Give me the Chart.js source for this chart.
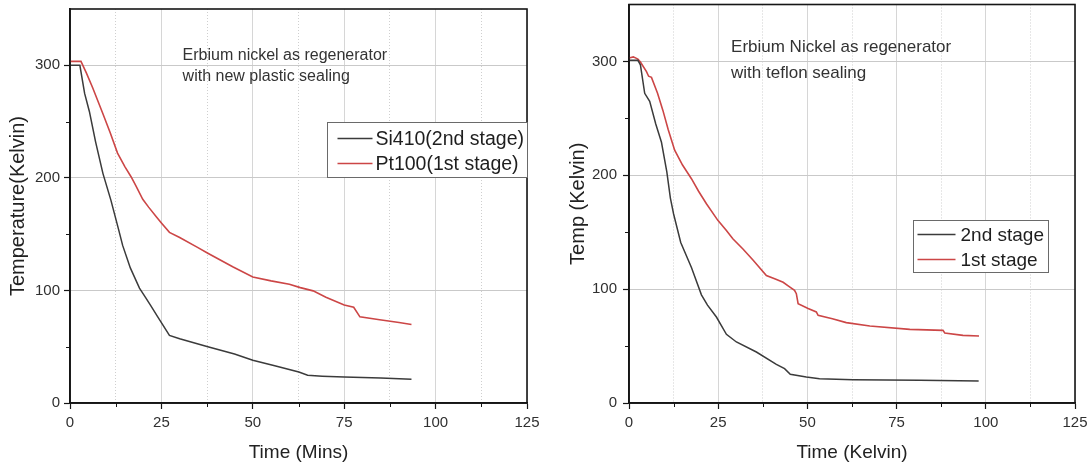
<!DOCTYPE html>
<html>
<head>
<meta charset="utf-8">
<script src="https://cdn.jsdelivr.net/npm/chart.js@4.4.0/dist/chart.umd.min.js"></script>
<style>
  html, body { margin: 0; padding: 0; background: #ffffff; }
  #wrap { position: relative; width: 1089px; height: 468px; overflow: hidden; }
  canvas { position: absolute; top: 0; }
  #plastic { left: 0; }
  #teflon { left: 545px; }
</style>
</head>
<body>
<div id="wrap">
  <canvas id="plastic" width="545" height="468"></canvas>
  <canvas id="teflon" width="544" height="468"></canvas>
</div>
<script>
// Cool-down run 1: erbium nickel regenerator, new plastic sealing
const plasticSi410Time = [0, 2.7, 4, 5.3, 7, 9, 11.2, 13.3, 14.4, 16.5, 19, 20.6, 22, 24, 27.2, 30, 37.7, 45, 50, 56, 62.6, 65, 69, 75, 85, 93.4];
const plasticSi410Temp = [300, 300, 275, 259, 232, 204, 180, 154, 140, 120, 102, 94, 87, 76.5, 60, 57, 50, 43.5, 38, 33, 27.6, 24.6, 23.8, 23, 22.3, 21];
const plasticPt100Time = [0, 3, 4.5, 6.2, 9, 11, 13, 15, 16.7, 18, 19.9, 21.5, 23.6, 25, 27.2, 30, 35, 37.7, 44.5, 50, 55, 60, 63, 66.5, 70, 75, 77.6, 79.3, 84.7, 90, 93.4];
const plasticPt100Temp = [303.5, 303.5, 293, 280, 257, 240, 222, 210, 201, 193, 181, 174, 165.5, 160, 151.6, 147, 138, 133, 121, 112, 108.5, 105.5, 102.5, 99.6, 94, 87, 85, 76.5, 74, 71.5, 69.8];

// Cool-down run 2: erbium nickel regenerator, teflon sealing
const teflon2ndTime = [0, 2.5, 3.2, 4.4, 5.8, 7.5, 9.1, 10.6, 11.6, 12.5, 14.5, 17.5, 20.3, 22, 24.5, 27.3, 30.1, 35.7, 41.3, 43.6, 45.2, 49.7, 53.4, 62.8, 81.5, 98];
const teflon2ndTemp = [301, 301, 297, 272, 265, 245, 229, 203, 180, 166, 141, 119, 95, 86, 75.5, 60.3, 53.6, 44.8, 34, 30.2, 25.2, 22.8, 21.4, 20.5, 19.9, 19.3];
const teflon1stTime = [0, 1.2, 2.5, 3.2, 4.9, 5.5, 6.3, 8, 9.5, 11, 12.8, 15, 17.5, 19.5, 21.7, 24.9, 27.3, 29.1, 32, 34.8, 38.5, 41, 43.2, 45, 46.4, 46.9, 47.4, 50.2, 52.5, 53, 57, 60.9, 67.5, 78.7, 88, 88.5, 93.6, 98.1];
const teflon1stTemp = [303, 304, 302, 299.5, 291, 287, 286, 272, 257, 240, 222, 209, 197, 186, 175, 160.4, 151.6, 144.3, 135, 125.3, 112, 109, 106, 102, 99, 96, 87.3, 83, 80, 77, 74, 70.6, 67.6, 64.7, 63.8, 61.5, 59.4, 58.8];

// Axis tick values
const timeTicks = [0, 25, 50, 75, 100, 125];
const tempTicks = [0, 100, 200, 300];

const FONT = "'Liberation Sans', Arial, Helvetica, sans-serif";
const DARK = '#3b3b3b';
const RED = '#cc4646';

const toPoints = (xs, ys) => xs.map((v, i) => ({ x: v, y: ys[i] }));

// Minor ticks, plot frame, caption and legend box
const panelDecor = {
  id: 'panelDecor',
  afterDraw(chart, args, opts) {
    const { ctx, chartArea: a, scales: { x, y } } = chart;
    ctx.save();
    ctx.strokeStyle = '#161616';
    ctx.lineWidth = 1;
    ctx.beginPath();
    x.ticks.forEach(t => {
      if (!timeTicks.includes(t.value)) {
        const px = Math.round(x.getPixelForValue(t.value)) + 0.5;
        ctx.moveTo(px, a.bottom); ctx.lineTo(px, a.bottom + 4);
      }
    });
    y.ticks.forEach(t => {
      if (!tempTicks.includes(t.value) && t.value < y.max) {
        const py = Math.round(y.getPixelForValue(t.value)) + 0.5;
        ctx.moveTo(a.left, py); ctx.lineTo(a.left - 4, py);
      }
    });
    ctx.stroke();

    ctx.lineWidth = 1.6;
    ctx.strokeRect(a.left, a.top, a.right - a.left, a.bottom - a.top);

    // caption
    ctx.fillStyle = '#333333';
    ctx.font = opts.noteSize + 'px ' + FONT;
    ctx.textAlign = 'left';
    ctx.textBaseline = 'middle';
    const nx = x.getPixelForValue(opts.noteAt[0]);
    const ny = y.getPixelForValue(opts.noteAt[1]);
    opts.note.forEach((line, i) => ctx.fillText(line, nx, ny + i * opts.noteGap));

    // legend
    const lx0 = Math.round(x.getPixelForValue(opts.legendBox[0])) + 0.5;
    const lx1 = Math.round(x.getPixelForValue(opts.legendBox[1])) + 0.5;
    const ly0 = Math.round(y.getPixelForValue(opts.legendBox[2])) + 0.5;
    const ly1 = Math.round(y.getPixelForValue(opts.legendBox[3])) + 0.5;
    ctx.fillStyle = '#ffffff';
    ctx.fillRect(lx0, ly0, lx1 - lx0, ly1 - ly0);
    ctx.strokeStyle = '#6a6a6a';
    ctx.lineWidth = 1;
    ctx.strokeRect(lx0, ly0, lx1 - lx0, ly1 - ly0);
    ctx.font = opts.legendSize + 'px ' + FONT;
    const rowTop = y.getPixelForValue(opts.legendRow);
    chart.data.datasets.forEach((ds, i) => {
      const ry = Math.round(rowTop + i * opts.legendGap) + 0.5;
      ctx.strokeStyle = ds.borderColor;
      ctx.lineWidth = 1.4;
      ctx.beginPath();
      ctx.moveTo(lx0 + opts.legendInset, ry);
      ctx.lineTo(lx0 + opts.legendInset + opts.legendLine, ry);
      ctx.stroke();
      ctx.fillStyle = '#1e1e1e';
      ctx.fillText(ds.label, lx0 + opts.legendInset + opts.legendLine + opts.legendTextGap, ry + 1);
    });
    ctx.restore();
  }
};

function makePanel(id, cfg) {
  return new Chart(document.getElementById(id), {
    type: 'line',
    data: {
      datasets: [
        { label: cfg.labels[0], data: cfg.series[0], borderColor: DARK, borderWidth: 1.5, pointRadius: 0, tension: 0, fill: false },
        { label: cfg.labels[1], data: cfg.series[1], borderColor: RED, borderWidth: 1.6, pointRadius: 0, tension: 0, fill: false }
      ]
    },
    options: {
      responsive: false,
      animation: false,
      events: [],
      layout: { padding: { left: 0, right: cfg.padRight, top: cfg.padTop, bottom: 0 } },
      plugins: {
        legend: { display: false },
        tooltip: { enabled: false },
        panelDecor: cfg.decor
      },
      scales: {
        x: {
          type: 'linear',
          min: 0, max: 125,
          ticks: {
            stepSize: 12.5,
            autoSkip: false,
            maxRotation: 0,
            padding: 5,
            color: '#303030',
            font: { family: FONT, size: 15 },
            callback: v => timeTicks.includes(v) ? String(v) : ''
          },
          grid: {
            color: c => (c.tick && timeTicks.includes(c.tick.value)) ? '#d6d6d6' : '#cfcfcf',
            lineWidth: 1,
            tickLength: 6,
            tickWidth: 1.2,
            tickColor: c => (c.tick && timeTicks.includes(c.tick.value)) ? '#161616' : 'rgba(0,0,0,0)'
          },
          border: {
            display: true, color: '#161616', width: 1.8,
            dash: c => (c.tick && !timeTicks.includes(c.tick.value)) ? [1, 2] : []
          },
          title: {
            display: true, text: cfg.xTitle, color: '#222222',
            font: { family: FONT, size: 19 }, padding: { top: 0, bottom: 4 }
          },
          afterFit: s => { s.height = 65; s.paddingLeft = 0; s.paddingRight = 0; }
        },
        y: {
          type: 'linear',
          min: 0, max: 350,
          ticks: {
            stepSize: 50,
            autoSkip: false,
            padding: cfg.yTickPad,
            color: '#303030',
            font: { family: FONT, size: 15 },
            callback: v => tempTicks.includes(v) ? String(v) : ''
          },
          grid: {
            color: c => (c.tick && tempTicks.includes(c.tick.value)) ? '#c9c9c9' : 'rgba(0,0,0,0)',
            lineWidth: 1,
            tickLength: 6,
            tickWidth: 1.2,
            tickColor: c => (c.tick && tempTicks.includes(c.tick.value)) ? '#161616' : 'rgba(0,0,0,0)'
          },
          border: { display: true, color: '#161616', width: 1.8 },
          title: {
            display: true, text: cfg.yTitle, color: '#222222',
            font: { family: FONT, size: 20 }, padding: { top: cfg.yTitlePad, bottom: 0 }
          },
          afterFit: s => { s.width = cfg.yWidth; s.paddingTop = 0; s.paddingBottom = 0; }
        }
      }
    },
    plugins: [panelDecor]
  });
}

makePanel('plastic', {
  labels: ['Si410(2nd stage)', 'Pt100(1st stage)'],
  series: [toPoints(plasticSi410Time, plasticSi410Temp), toPoints(plasticPt100Time, plasticPt100Temp)],
  xTitle: 'Time (Mins)',
  yTitle: 'Temperature(Kelvin)',
  yWidth: 70, padRight: 18, padTop: 9, yTickPad: 4, yTitlePad: 6,
  decor: {
    note: ['Erbium nickel as regenerator', 'with new plastic sealing'],
    noteAt: [30.8, 309], noteGap: 21.5, noteSize: 16,
    legendBox: [70.2, 125, 249.7, 200.8],
    legendRow: 235.5, legendGap: 25, legendInset: 10, legendLine: 35, legendTextGap: 3, legendSize: 19.5
  }
});

makePanel('teflon', {
  labels: ['2nd stage', '1st stage'],
  series: [toPoints(teflon2ndTime, teflon2ndTemp), toPoints(teflon1stTime, teflon1stTemp)],
  xTitle: 'Time (Kelvin)',
  yTitle: 'Temp (Kelvin)',
  yWidth: 84, padRight: 14, padTop: 4.5, yTickPad: 6, yTitlePad: 21,
  decor: {
    note: ['Erbium Nickel as regenerator', 'with teflon sealing'],
    noteAt: [28.6, 312.6], noteGap: 26, noteSize: 17,
    legendBox: [79.5, 117.3, 160.4, 114.8],
    legendRow: 148.8, legendGap: 25, legendInset: 4, legendLine: 38, legendTextGap: 5, legendSize: 19
  }
});
</script>
</body>
</html>
